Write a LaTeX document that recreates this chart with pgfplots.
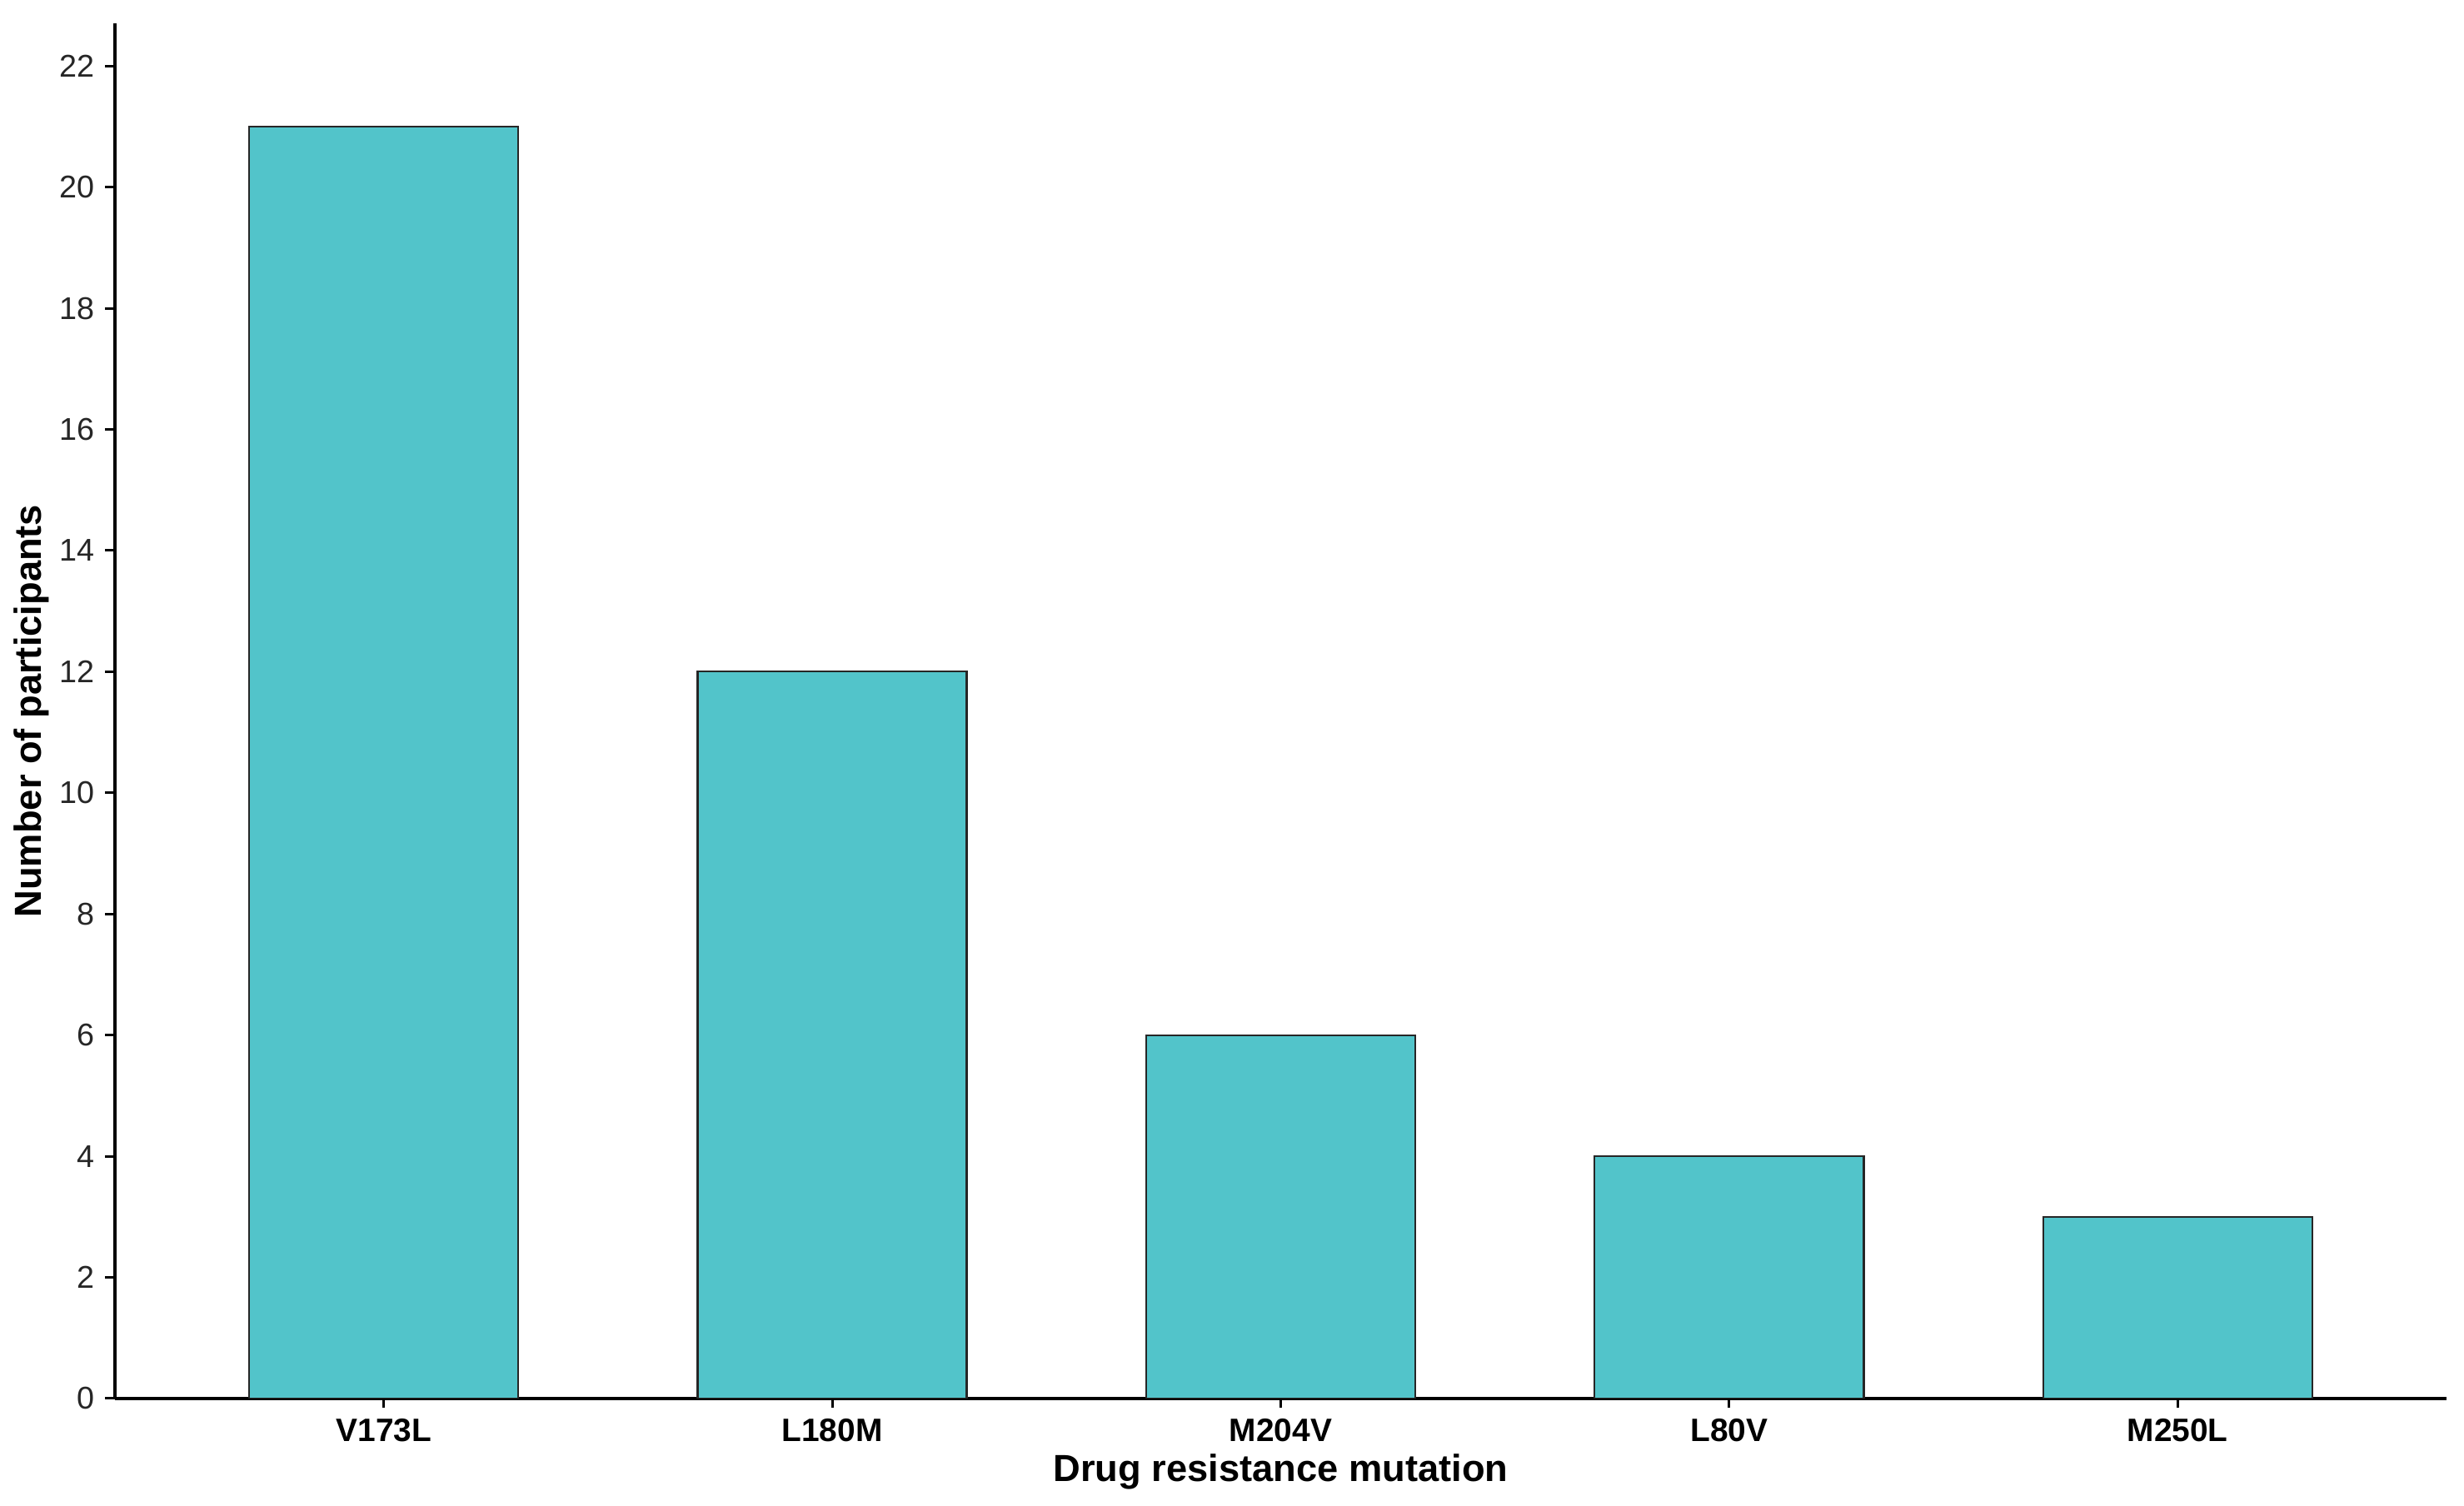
\documentclass[border=0pt]{standalone}
\usepackage{pgfplots}
\pgfplotsset{compat=1.18}
\usepackage{fontspec}
\setmainfont{Liberation Sans}
\definecolor{barc}{RGB}{82,196,202}
\begin{document}
\begin{tikzpicture}
\useasboundingbox (-36.5pt,-34pt) rectangle (747.5pt,445pt);
\begin{axis}[
  at={(0,0)}, anchor=south west,
  scale only axis, width=742pt, height=437.5pt,
  xmin=-0.6, xmax=4.6, ymin=0, ymax=22.7,
  axis x line*=bottom, axis y line*=left,
  axis line style={-, line width=1pt, black},
  ytick={0,2,...,22},
  xtick={0,1,2,3,4},
  xticklabels={V173L,L180M,M204V,L80V,M250L},
  tick align=outside,
  major tick length=3pt,
  tick style={black, line width=0.8pt},
  /pgf/number format/assume math mode=true,
  yticklabel style={font=\fontsize{10}{12}\selectfont, text=black!85},
  xticklabel style={font=\fontsize{10.3}{12}\selectfont\bfseries},
  xlabel={Drug resistance mutation},
  ylabel={Number of participants},
  label style={font=\fontsize{12}{14}\selectfont\bfseries},
  xlabel style={at={(axis description cs:0.5,0)}, anchor=base, yshift=-26.5pt},
  ylabel style={at={(axis description cs:0,0.5)}, anchor=center, yshift=26.5pt},
]
\addplot[ybar, bar width=0.6, fill=barc, draw=black!85, line width=0.6pt]
  coordinates {(0,21) (1,12) (2,6) (3,4) (4,3)};
\end{axis}
\end{tikzpicture}
\end{document}
